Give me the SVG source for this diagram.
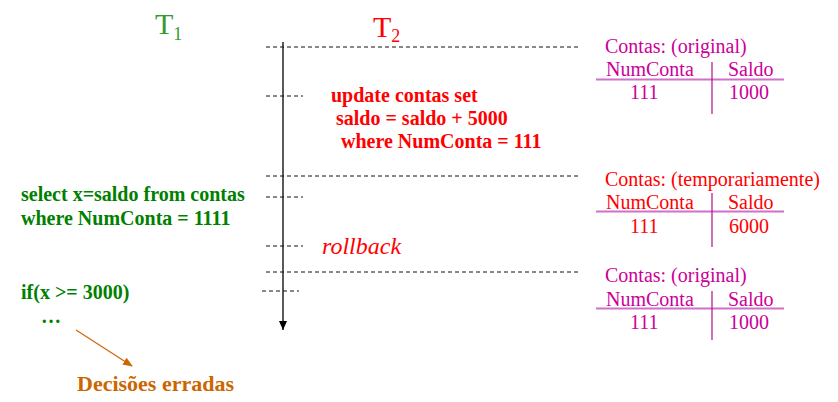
<svg xmlns="http://www.w3.org/2000/svg" width="838" height="402" viewBox="0 0 838 402">
<defs>
<marker id="ahBlack" markerUnits="userSpaceOnUse" markerWidth="9" markerHeight="8" refX="9" refY="4" orient="auto" viewBox="0 0 9 8">
<path d="M0,0 L9,4 L0,8 Z" fill="#000"/>
</marker>
<marker id="ahOrange" markerUnits="userSpaceOnUse" markerWidth="10" markerHeight="8" refX="9" refY="4" orient="auto" viewBox="0 0 10 8">
<path d="M0,0 L10,4 L0,8 Z" fill="#CC6600"/>
</marker>
<style>
text{font-family:"Liberation Serif","Times New Roman",serif}
.dash{stroke:#111;stroke-width:1;stroke-dasharray:4 3;fill:none}
.g{fill:#008000;font-weight:bold;font-size:20px}
.r{fill:#FF0000;font-weight:bold;font-size:20px}
.mg{fill:#CC0099;font-size:20px}
.rd{fill:#FF0000;font-size:20px}
.hl{stroke:#D070C8;stroke-width:2}
.vl{stroke:#B0108F;stroke-width:1.2}
</style>
</defs>

<g id="title-T1"><text x="155" y="34" font-size="30" fill="#339933">T<tspan font-size="18" dy="6">1</tspan></text></g>
<g id="title-T2"><text x="373" y="37" font-size="30" fill="#FF0000">T<tspan font-size="18" dy="5">2</tspan></text></g>

<g id="connectors">
<line x1="283" y1="42" x2="283" y2="330" stroke="#000" stroke-width="1.3" marker-end="url(#ahBlack)"/>
<line class="dash" x1="266" y1="47" x2="578" y2="47"/>
<line class="dash" x1="266" y1="96" x2="303" y2="96"/>
<line class="dash" x1="266" y1="176" x2="578" y2="176"/>
<line class="dash" x1="266" y1="197" x2="303" y2="197"/>
<line class="dash" x1="266" y1="246" x2="303" y2="246"/>
<line class="dash" x1="266" y1="272" x2="578" y2="272"/>
<line class="dash" x1="262" y1="291" x2="299" y2="291"/>
<line x1="76" y1="330" x2="132" y2="366" stroke="#CC6600" stroke-width="1.2" marker-end="url(#ahOrange)"/>
</g>

<g id="t2-update">
<text class="r" x="331" y="102">update contas set</text>
<text class="r" x="336" y="125">saldo = saldo + 5000</text>
<text class="r" x="341" y="148">where NumConta = 111</text>
</g>

<g id="t1-select">
<text class="g" x="21" y="201">select x=saldo from contas</text>
<text class="g" x="21" y="225">where NumConta = 1111</text>
</g>

<g id="t2-rollback"><text x="322" y="254" font-size="24" font-style="italic" fill="#FF0000">rollback</text></g>

<g id="t1-if">
<text class="g" x="21" y="299">if(x &gt;= 3000)</text>
<text class="g" x="41" y="323">…</text>
</g>

<g id="decisoes"><text x="77" y="391" font-size="22" font-weight="bold" fill="#CC6600">Decisões erradas</text></g>

<g id="table-original-1">
<text class="mg" x="605" y="53">Contas: (original)</text>
<text class="mg" x="606" y="76">NumConta</text>
<text class="mg" x="728" y="76">Saldo</text>
<line class="hl" x1="596" y1="79.5" x2="784" y2="79.5"/>
<line class="vl" x1="712" y1="62" x2="712" y2="114"/>
<text class="mg" x="630" y="99">111</text>
<text class="mg" x="729" y="99">1000</text>
</g>

<g id="table-temp">
<text class="rd" x="605" y="186">Contas: (temporariamente)</text>
<text class="rd" x="606" y="209">NumConta</text>
<text class="rd" x="728" y="209">Saldo</text>
<line class="hl" x1="596" y1="211.5" x2="784" y2="211.5"/>
<line class="vl" x1="712" y1="193" x2="712" y2="247"/>
<text class="rd" x="630" y="233">111</text>
<text class="rd" x="729" y="233">6000</text>
</g>

<g id="table-original-2">
<text class="mg" x="605" y="282">Contas: (original)</text>
<text class="mg" x="606" y="306">NumConta</text>
<text class="mg" x="728" y="306">Saldo</text>
<line class="hl" x1="596" y1="308.5" x2="784" y2="308.5"/>
<line class="vl" x1="712" y1="291" x2="712" y2="340"/>
<text class="mg" x="630" y="329">111</text>
<text class="mg" x="729" y="329">1000</text>
</g>
</svg>
